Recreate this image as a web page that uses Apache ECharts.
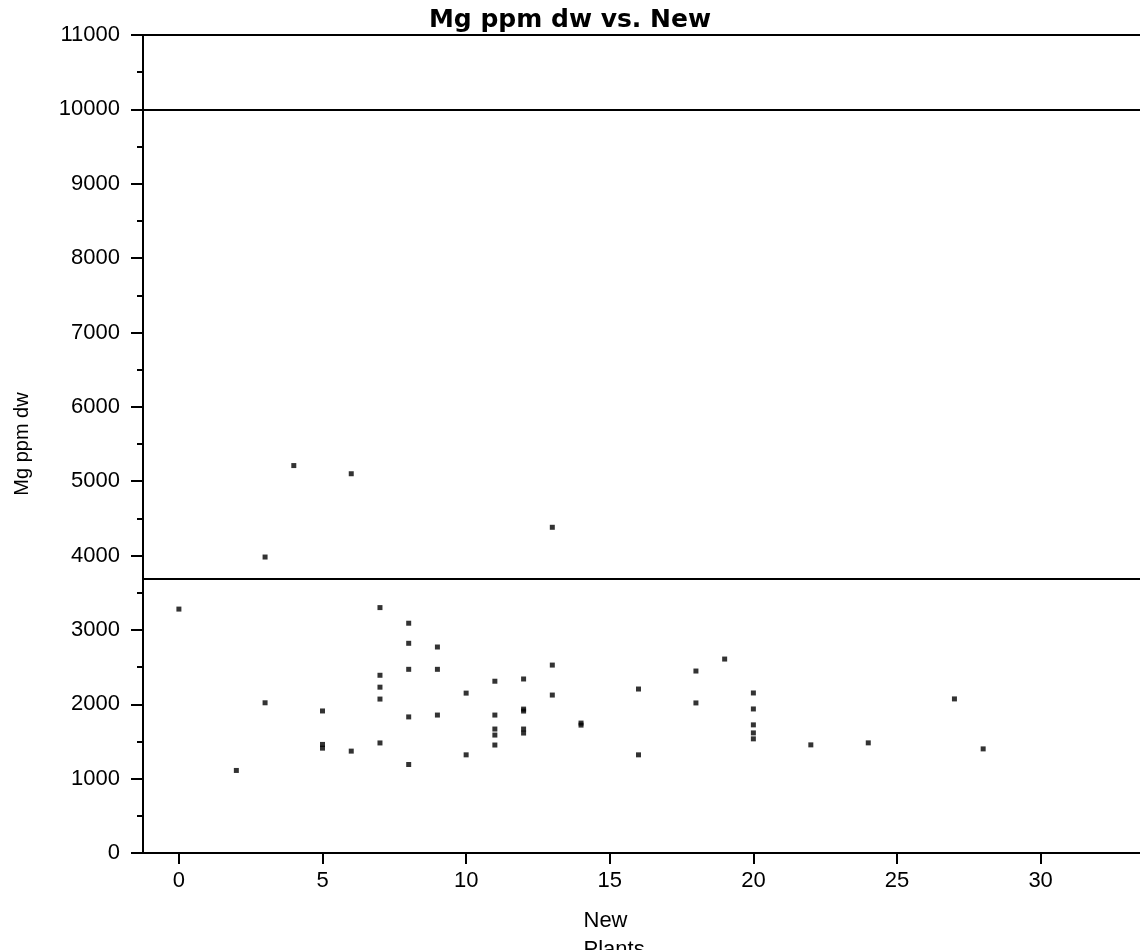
<!DOCTYPE html>
<html>
<head>
<meta charset="utf-8">
<title>Mg ppm dw vs. New</title>
<script src="https://cdn.jsdelivr.net/npm/echarts@6.0.0/dist/echarts.min.js"></script>
<style>
  html, body { margin: 0; padding: 0; background: #fff; }
  #chart { width: 1140px; height: 950px; }
</style>
</head>
<body>
<div id="chart"></div>
<script>
// New plants (x) vs Mg ppm dw (y)
var newPlants = [0, 2, 3, 3, 4, 5, 5, 5, 6, 6, 7, 7, 7, 7, 7, 8, 8, 8, 8, 8, 9, 9, 9, 10, 10,
  11, 11, 11, 11, 11, 12, 12, 12, 12, 12, 13, 13, 13, 14, 14, 16, 16, 18, 18, 19,
  20, 20, 20, 20, 20, 22, 24, 27, 28]
var mgPpm = [3280, 1110, 3980, 2020, 5210, 1910, 1460, 1410, 5100, 1370, 3300, 2390, 2230, 2070, 1480,
  3090, 2820, 2470, 1830, 1190, 2770, 2470, 1855, 2150, 1320,
  2310, 1855, 1667, 1586, 1452, 2340, 1935, 1909, 1667, 1613, 4380, 2527, 2124, 1747, 1720,
  2205, 1320, 2447, 2018, 2608, 2152, 1937, 1723, 1615, 1535, 1454, 1481, 2072, 1400]
var xTicks = [0, 5, 10, 15, 20, 25, 30]
var refLines = [11000, 10000, 3690]

var points = newPlants.map(function (x, i) {
  return [x, mgPpm[i]]
})

var font = 'Liberation Sans'
var chart = echarts.init(document.getElementById('chart'))
chart.setOption({
  animation: false,
  backgroundColor: '#fff',
  title: {
    text: 'Mg ppm dw vs. New',
    left: 'center',
    top: 8,
    padding: 0,
    textStyle: { fontFamily: 'DejaVu Sans', fontSize: 25, fontWeight: 'bold', color: '#000' }
  },
  grid: { left: 143, right: 0, top: 35, bottom: 97, outerBoundsMode: 'none' },
  xAxis: {
    type: 'value',
    min: -1.25,
    max: 33.46,
    // two lines, left aligned with each other like the reference
    name: '{a|New}\n{a|Plants}',
    nameLocation: 'middle',
    nameGap: 53,
    nameTextStyle: {
      fontFamily: font,
      fontSize: 22,
      color: '#000',
      padding: [0, 54, 0, 0],
      rich: {
        a: { width: 62, align: 'left', fontFamily: font, fontSize: 22, lineHeight: 29, color: '#000' }
      }
    },
    splitLine: { show: false },
    axisLine: { onZero: false, lineStyle: { color: '#000', width: 2 } },
    axisTick: { customValues: xTicks, length: 11, lineStyle: { color: '#000', width: 2 } },
    axisLabel: {
      customValues: xTicks,
      margin: 17,
      fontFamily: font,
      fontSize: 22,
      color: '#000'
    }
  },
  yAxis: {
    type: 'value',
    min: 0,
    max: 11000,
    interval: 1000,
    name: 'Mg ppm dw',
    nameLocation: 'middle',
    nameGap: 111,
    nameTextStyle: { fontFamily: font, fontSize: 20, color: '#000' },
    splitLine: { show: false },
    axisLine: { show: true, onZero: false, lineStyle: { color: '#000', width: 2 } },
    axisTick: { length: 12, lineStyle: { color: '#000', width: 2 } },
    minorTick: { show: true, splitNumber: 2, length: 6, lineStyle: { color: '#000', width: 2 } },
    axisLabel: {
      margin: 23,
      fontFamily: font,
      fontSize: 22,
      color: '#000',
      formatter: function (v) {
        return String(v)
      }
    }
  },
  series: [
    {
      type: 'scatter',
      data: points,
      symbol: 'rect',
      symbolSize: 5,
      itemStyle: { color: '#000' },
      markLine: {
        silent: true,
        symbol: ['none', 'none'],
        label: { show: false },
        lineStyle: { color: '#000', type: 'solid', width: 2 },
        data: refLines.map(function (v) {
          return { yAxis: v }
        })
      }
    }
  ]
})
</script>
</body>
</html>
